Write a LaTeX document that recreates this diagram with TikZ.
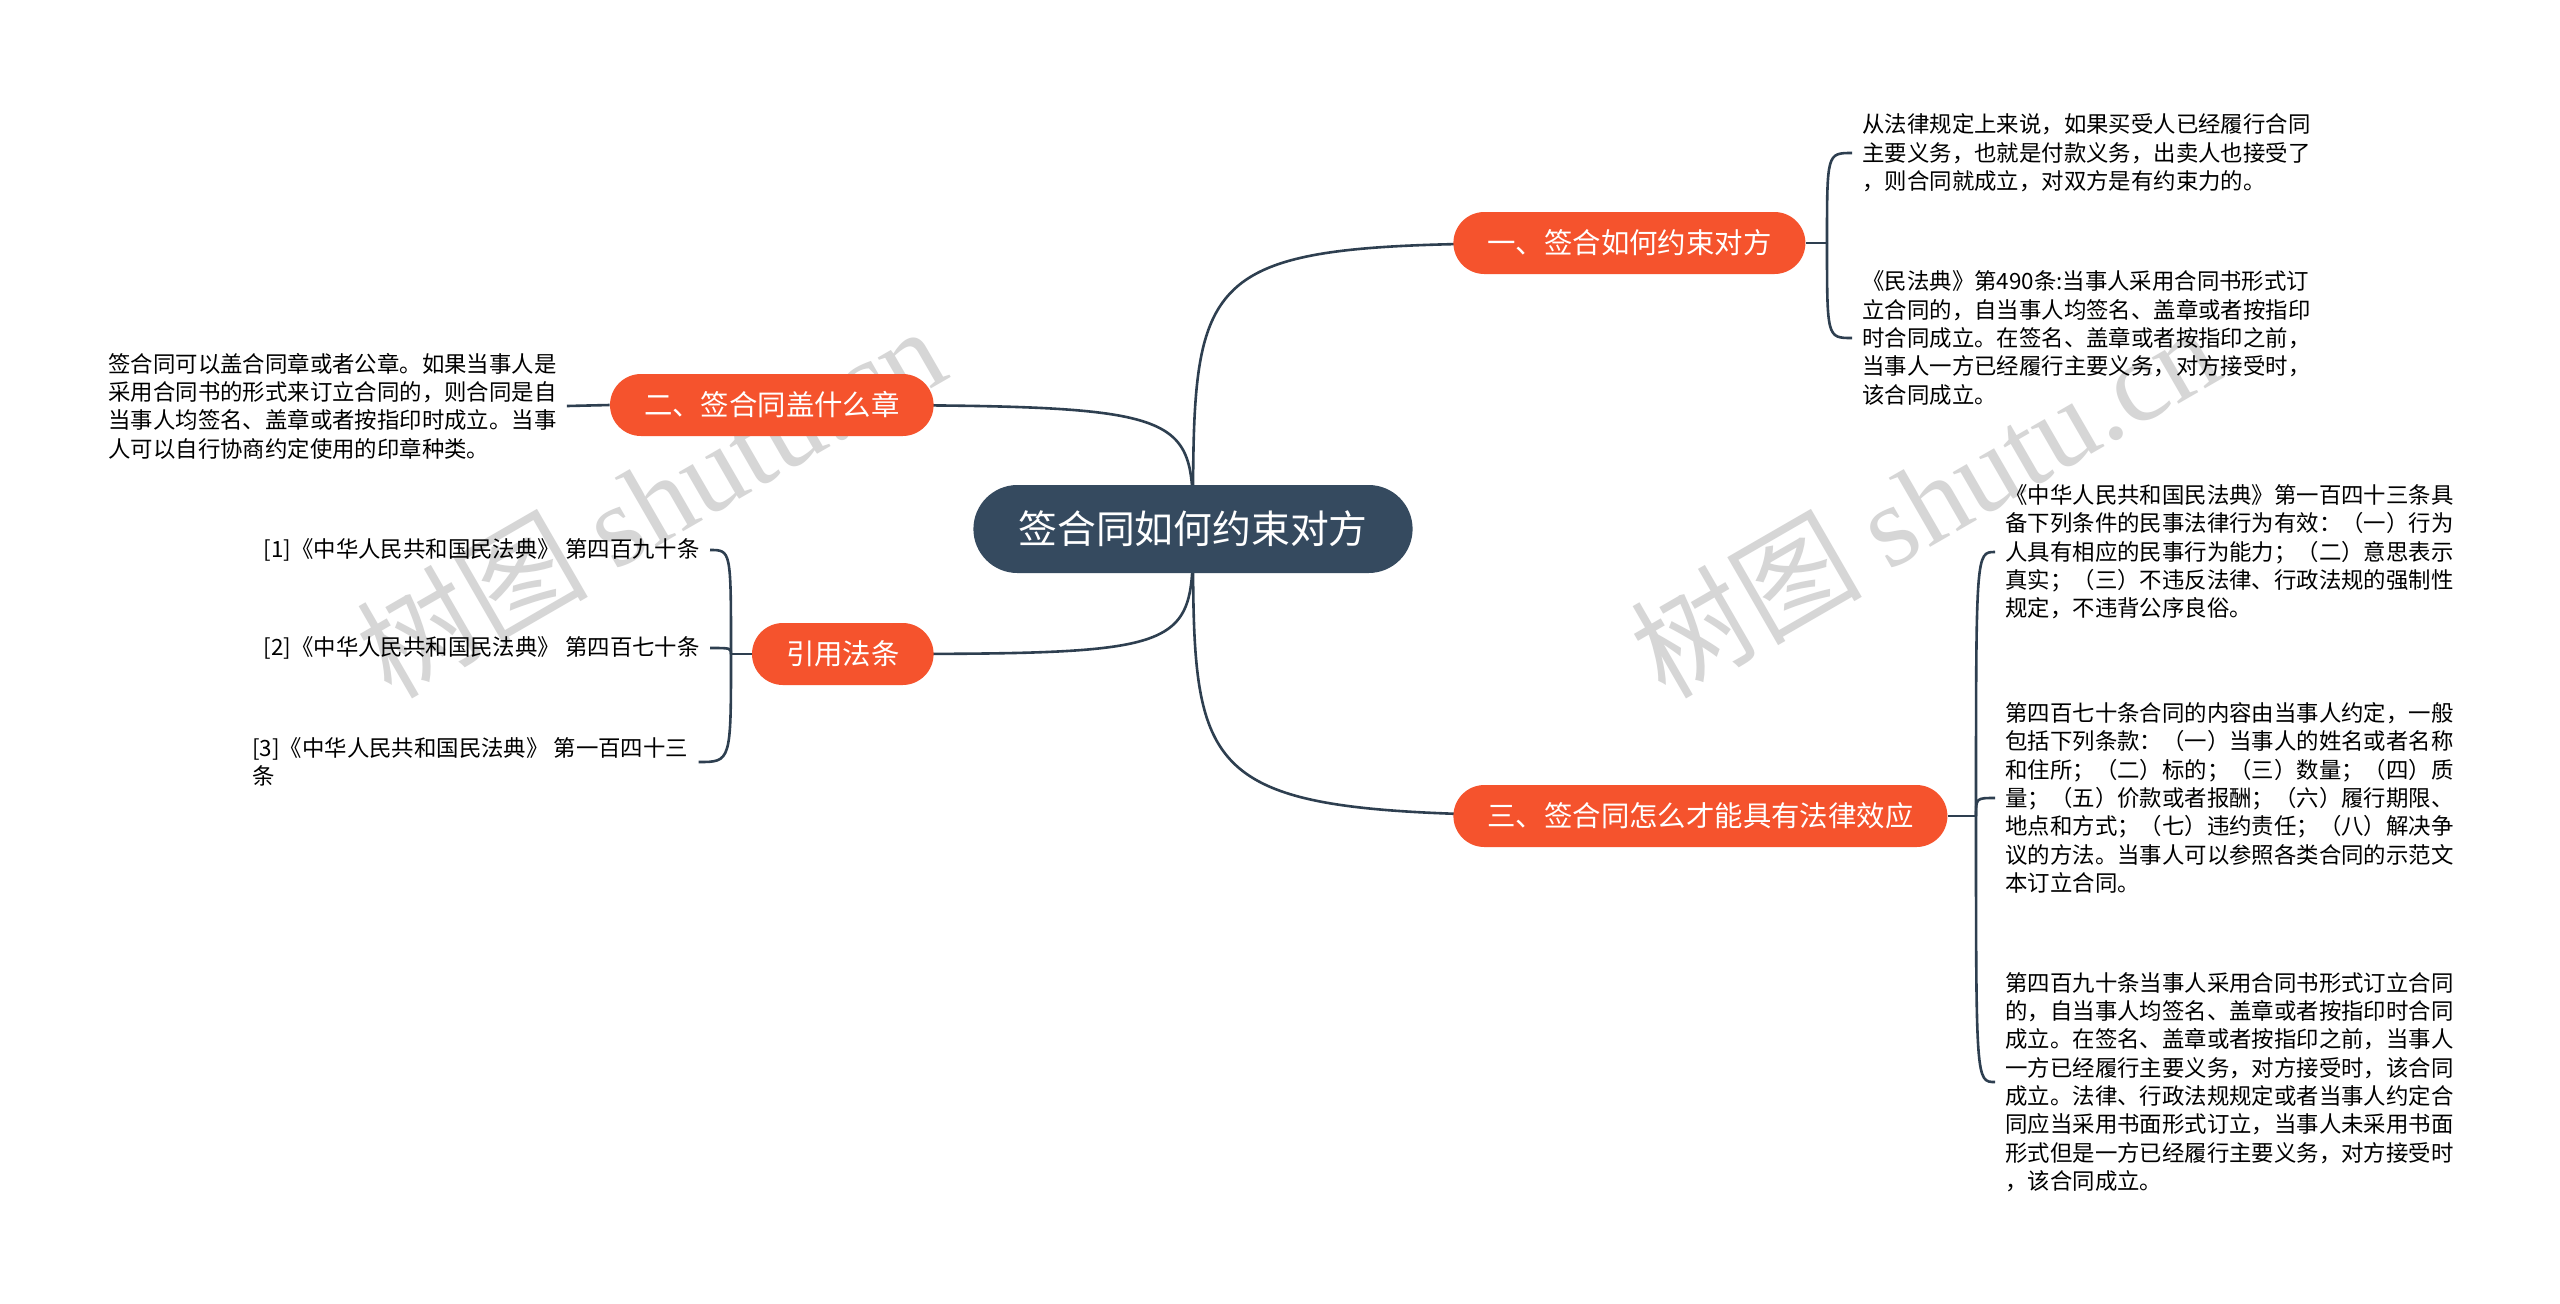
\documentclass[tikz,border=0pt]{standalone}
\usepackage{fontspec}
\setmainfont{Noto Sans CJK SC}
\newfontfamily\wmlatin{Liberation Serif}
\usetikzlibrary{backgrounds}
\definecolor{rootblue}{HTML}{354A5F}
\definecolor{branchred}{HTML}{F5532D}
\definecolor{linkgray}{HTML}{2E3F50}
\tikzset{rootbox/.style={fill=rootblue,text=white,rounded corners=22pt,minimum height=44pt,inner xsep=22.5pt,font=\fontsize{19.4pt}{23pt}\selectfont},
branchbox/.style={fill=branchred,text=white,rounded corners=15.5pt,minimum height=31pt,inner xsep=17pt,font=\fontsize{14.2pt}{17pt}\selectfont},
leaftext/.style={align=left,inner xsep=5pt,inner ysep=0pt,font=\fontsize{11.2pt}{14.15pt}\selectfont},
link/.style={draw=linkgray,line width=1.3pt},
wmtext/.style={text=black!16,rotate=30,inner sep=0pt,font=\fontsize{58pt}{60pt}\selectfont}}

\begin{document}
\begin{tikzpicture}[x=0.5pt,y=-0.5pt]
\useasboundingbox (0,0) rectangle (2560,1303);
\node[rootbox] (root) at (1193,529) {签合同如何约束对方};
\node[branchbox,anchor=west] (bind) at (1453,243) {一、签合如何约束对方};
\node[branchbox,anchor=east] (seal) at (934,405) {二、签合同盖什么章};
\node[branchbox,anchor=east] (cite) at (934,654) {引用法条};
\node[branchbox,anchor=west] (law) at (1453,816) {三、签合同怎么才能具有法律效应};
\node[leaftext,anchor=west] (bindA) at (1852,153)
 {从法律规定上来说，如果买受人已经履行合同\\主要义务，也就是付款义务，出卖人也接受了\\，则合同就成立，对双方是有约束力的。};
\node[leaftext,anchor=west] (bindB) at (1852,338)
 {《民法典》第490条:当事人采用合同书形式订\\立合同的，自当事人均签名、盖章或者按指印\\时合同成立。在签名、盖章或者按指印之前，\\当事人一方已经履行主要义务，对方接受时，\\该合同成立。};
\node[leaftext,anchor=west] (sealA) at (98,406)
 {签合同可以盖合同章或者公章。如果当事人是\\采用合同书的形式来订立合同的，则合同是自\\当事人均签名、盖章或者按指印时成立。当事\\人可以自行协商约定使用的印章种类。};
\node[leaftext,anchor=east] (citeA) at (710,550) {[1]《中华人民共和国民法典》 第四百九十条};
\node[leaftext,anchor=east] (citeB) at (710,648) {[2]《中华人民共和国民法典》 第四百七十条};
\node[leaftext,anchor=west] (citeC) at (242,762) {[3]《中华人民共和国民法典》 第一百四十三\\条};
\node[leaftext,anchor=west] (lawA) at (1995,552)
 {《中华人民共和国民法典》第一百四十三条具\\备下列条件的民事法律行为有效：（一）行为\\人具有相应的民事行为能力；（二）意思表示\\真实；（三）不违反法律、行政法规的强制性\\规定，不违背公序良俗。};
\node[leaftext,anchor=west] (lawB) at (1995,798)
 {第四百七十条合同的内容由当事人约定，一般\\包括下列条款：（一）当事人的姓名或者名称\\和住所；（二）标的；（三）数量；（四）质\\量；（五）价款或者报酬；（六）履行期限、\\地点和方式；（七）违约责任；（八）解决争\\议的方法。当事人可以参照各类合同的示范文\\本订立合同。};
\node[leaftext,anchor=west] (lawC) at (1995,1082)
 {第四百九十条当事人采用合同书形式订立合同\\的，自当事人均签名、盖章或者按指印时合同\\成立。在签名、盖章或者按指印之前，当事人\\一方已经履行主要义务，对方接受时，该合同\\成立。法律、行政法规规定或者当事人约定合\\同应当采用书面形式订立，当事人未采用书面\\形式但是一方已经履行主要义务，对方接受时\\，该合同成立。};
\coordinate (bindJ) at (1827,243);
\coordinate (lawJ) at (1976,816);
\coordinate (citeJ) at (731,654);
\begin{scope}[on background layer]
\fill[white] (0,0) rectangle (2560,1303);
\node[wmtext] (wmL) at (650,500) {树图 {\wmlatin shutu.cn}};
\node[wmtext] (wmR) at (1924,500) {树图 {\wmlatin shutu.cn}};
\foreach \b in {bind,seal,cite,law}
 \draw[link] (root.center) .. controls (root.center |- \b.center) .. (\b.center);
\draw[link] (bind.east) -- (bindJ);
\draw[link] (law.east) -- (lawJ);
\draw[link] (cite.west) -- (citeJ);
\draw[link] (seal.west) -- (sealA.east);
\foreach \l in {bindA,bindB}
 \draw[link] (bindJ) .. controls (bindJ |- \l.west) .. (\l.west);
\foreach \l in {lawA,lawB,lawC}
 \draw[link] (lawJ) .. controls (lawJ |- \l.west) .. (\l.west);
\draw[link] (citeJ) .. controls (citeJ |- citeA.east) .. (citeA.east);
\draw[link] (citeJ) .. controls (citeJ |- citeB.east) .. (citeB.east);
\draw[link] (citeJ) .. controls (citeJ |- citeC.east) .. (citeC.east);
\end{scope}
\end{tikzpicture}
\end{document}
